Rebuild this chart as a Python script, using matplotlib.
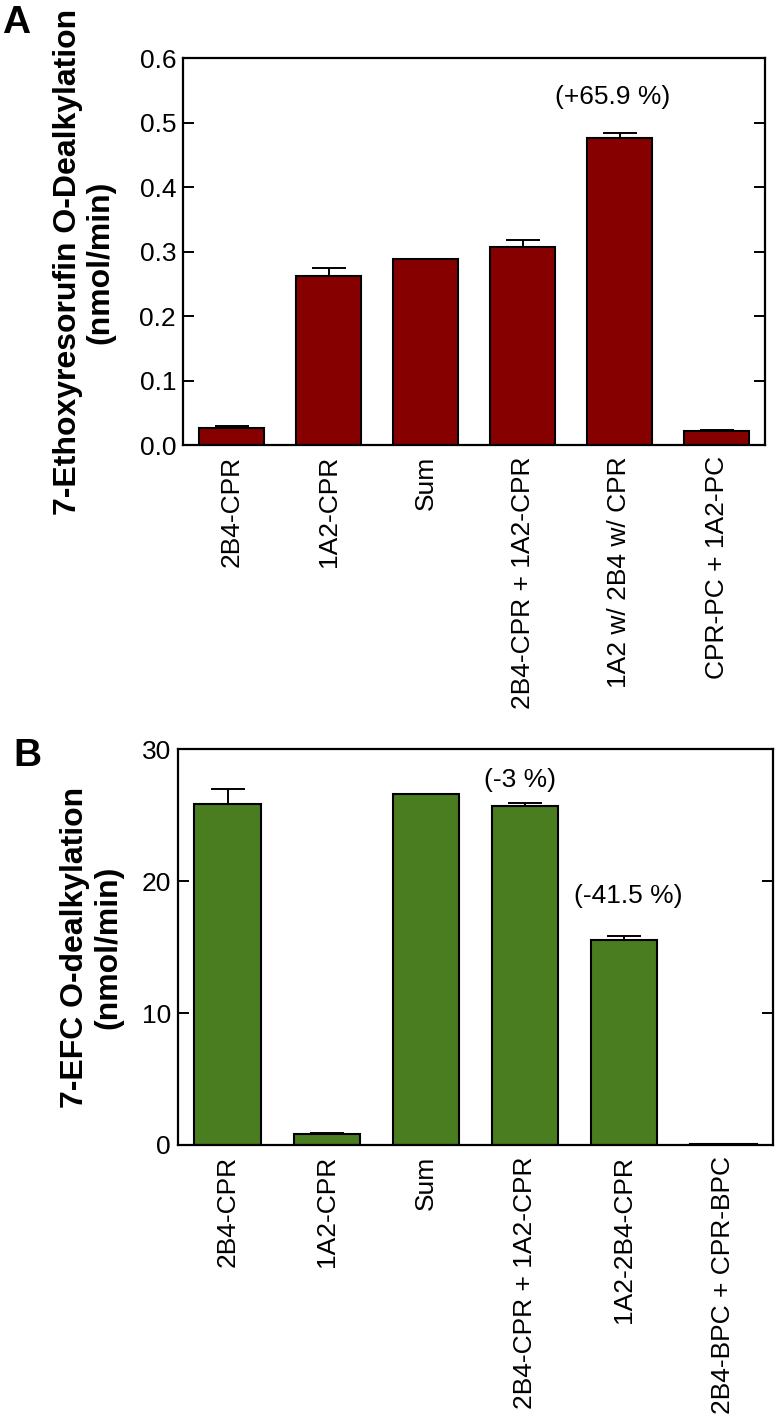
import matplotlib
matplotlib.use("Agg")
import matplotlib.pyplot as plt
import numpy as np

plt.rcParams['font.family'] = ['Liberation Sans', 'DejaVu Sans']

# Panel A data
cats_a = ["2B4-CPR", "1A2-CPR", "Sum", "2B4-CPR + 1A2-CPR", "1A2 w/ 2B4 w/ CPR", "CPR-PC + 1A2-PC"]
vals_a = [0.027, 0.262, 0.289, 0.307, 0.476, 0.022]
errs_a = [0.003, 0.013, 0.0, 0.011, 0.008, 0.002]
ann_a = {4: "(+65.9 %)"}
ann_a_y = {4: 0.539}
yticks_a = [0.0, 0.1, 0.2, 0.3, 0.4, 0.5, 0.6]

# Panel B data
cats_b = ["2B4-CPR", "1A2-CPR", "Sum", "2B4-CPR + 1A2-CPR", "1A2-2B4-CPR", "2B4-BPC + CPR-BPC"]
vals_b = [25.8, 0.83, 26.6, 25.7, 15.55, 0.08]
errs_b = [1.15, 0.08, 0.0, 0.2, 0.27, 0.03]
ann_b = {3: "(-3 %)", 4: "(-41.5 %)"}
ann_b_y = {3: 27.65, 4: 18.9}
yticks_b = [0, 10, 20, 30]

W, H = 776, 1425
fig = plt.figure(figsize=(W / 100, H / 100), dpi=100)

def ax_rect(l, r, t, b):
    return [l / W, 1 - b / H, (r - l) / W, (b - t) / H]

FS = 19

def panel(rect, cats, vals, errs, color, yticks, ylim, ticklabels, ann, ann_y, ann_dx):
    ax = fig.add_axes(rect)
    x = np.arange(len(cats))
    lower = np.zeros(len(errs))
    ax.bar(x, vals, width=0.67, color=color, edgecolor='black', linewidth=1.5,
           yerr=[lower, errs], capsize=12,
           error_kw=dict(elinewidth=1.4, capthick=1.4, ecolor='black'), zorder=2)
    ax.set_xlim(-0.5, len(cats) - 0.5)
    ax.set_ylim(*ylim)
    ax.set_yticks(yticks)
    ax.set_yticklabels(ticklabels)
    ax.set_xticks(x)
    ax.set_xticklabels(cats, rotation=90, va='top', ha='center')
    ax.tick_params(axis='x', length=0, pad=8, labelsize=FS)
    ax.tick_params(axis='y', direction='in', length=8, width=1.4, pad=5,
                   labelsize=FS, right=True)
    for s in ax.spines.values():
        s.set_linewidth(1.6)
    for i, txt in ann.items():
        ax.text(i + ann_dx.get(i, 0), ann_y[i], txt,
                ha='center', va='center', fontsize=FS)
    return ax

ax_a = panel(ax_rect(183, 765, 58, 445), cats_a, vals_a, errs_a, '#870000',
             yticks_a, (0, 0.6), [f"{v:.1f}" for v in yticks_a], ann_a, ann_a_y,
             {4: -0.07})
ax_b = panel(ax_rect(178, 773, 749, 1145), cats_b, vals_b, errs_b, '#4A7D20',
             yticks_b, (0, 30), [str(v) for v in yticks_b], ann_b, ann_b_y,
             {3: -0.05, 4: 0.04})

fig.text(84 / W, 1 - 262 / H, "7-Ethoxyresorufin O-Dealkylation\n(nmol/min)",
         rotation=90, ha='center', va='center', fontsize=23, fontweight='bold',
         multialignment='center', linespacing=1.1)
fig.text(92 / W, 1 - 947 / H, "7-EFC O-dealkylation\n(nmol/min)",
         rotation=90, ha='center', va='center', fontsize=23, fontweight='bold',
         multialignment='center', linespacing=1.15)

fig.text(2 / W, 1 - 5 / H, "A", ha='left', va='top', fontsize=28, fontweight='bold')
fig.text(13 / W, 1 - 738 / H, "B", ha='left', va='top', fontsize=28, fontweight='bold')

fig.savefig("out.png", dpi=100)
